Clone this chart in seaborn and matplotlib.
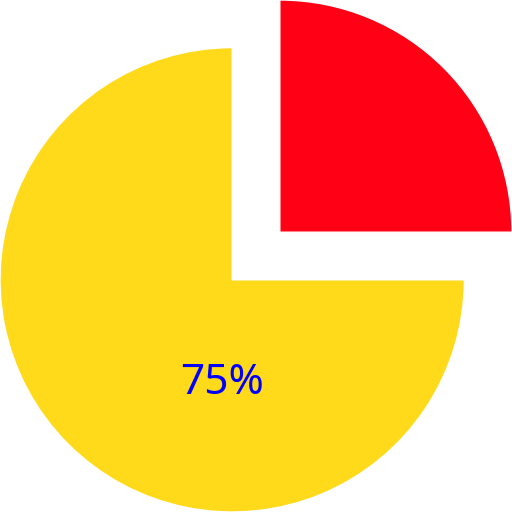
import matplotlib
matplotlib.use('Agg')
import matplotlib.pyplot as plt
import seaborn as sns

# chart data
labels = ['A', 'B']
values = [25, 75]
colors = ['#ff0015', '#ffda1a']
explode = [0.29, 0]

sns.set_theme(style='white')
plt.rcParams['font.family'] = ['Noto Sans', 'DejaVu Sans']

fig = plt.figure(figsize=(5.12, 5.12), dpi=100)
ax = fig.add_axes([0, 0, 1, 1])

wedges, texts, autotexts = ax.pie(
    values, colors=colors, explode=explode, startangle=0,
    autopct=lambda p: f'{p:.0f}%' if p > 50 else '',
    textprops={'color': 'blue', 'fontsize': 30.5},
)
# the original puts the label a bit off the wedge's mid-angle
autotexts[1].set_position((-0.045, -0.445))

off = explode[0] / 2 ** 0.5
ax.set_xlim(-1, 1 + off)
ax.set_ylim(-1, 1 + off)
ax.set_aspect('equal')
ax.axis('off')

fig.savefig('out.png', dpi=100)
